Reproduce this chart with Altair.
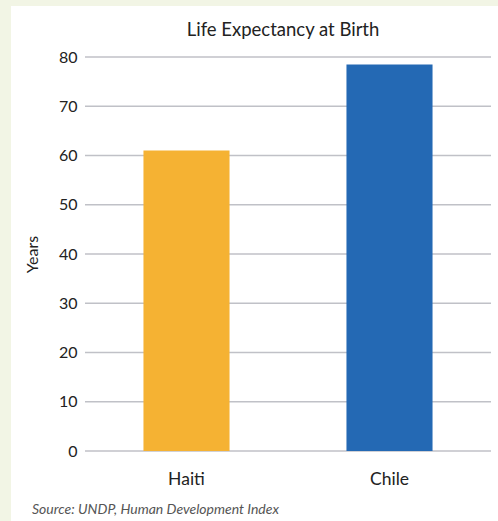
import altair as alt
import pandas as pd

# Life expectancy at birth (years)
countries = ["Haiti", "Chile"]
life_expectancy = [61.0, 78.5]
bar_colors = ["#f5b233", "#2469b4"]
y_ticks = [0, 10, 20, 30, 40, 50, 60, 70, 80]

df = pd.DataFrame({"country": countries, "years": life_expectancy})
grid_df = pd.DataFrame({"years": y_ticks})

FONT = "Lato"
W, H = 406, 394

y_scale = alt.Scale(domain=[0, 80], nice=False)

# white card behind the chart, drawn in pixel space around the plot area
panel = alt.Chart(pd.DataFrame({"k": [0]})).mark_rect(color="white").encode(
    x=alt.value(-74), x2=alt.value(W + 7), y=alt.value(-51), y2=alt.value(H + 70)
)

# horizontal gridlines, kept beneath the bars
grid = alt.Chart(grid_df).mark_rule(color="#c0c1c7", strokeWidth=1.6).encode(
    y=alt.Y("years:Q", scale=y_scale)
)

bars = alt.Chart(df).mark_bar().encode(
    x=alt.X(
        "country:N",
        sort=countries,
        scale=alt.Scale(paddingInner=0.576, paddingOuter=0.288),
        axis=alt.Axis(
            title=None, labelAngle=0, domain=False, ticks=False, zindex=1,
            labelPadding=19, labelFontSize=17.5, labelFont=FONT, labelColor="#222222",
        ),
    ),
    y=alt.Y(
        "years:Q",
        scale=y_scale,
        axis=alt.Axis(
            title="Years", values=y_ticks, domain=False, ticks=False, zindex=1, grid=False,
            labelPadding=8, labelFontSize=16, labelFont=FONT, labelColor="#222222",
            titleFont=FONT, titleFontSize=16, titleFontWeight="normal", titleColor="#222222",
            titlePadding=18,
        ),
    ),
    color=alt.Color("country:N", scale=alt.Scale(domain=countries, range=bar_colors), legend=None),
)

source = alt.Chart(pd.DataFrame({"t": ["Source: UNDP, Human Development Index"]})).mark_text(
    align="left", baseline="alphabetic", font=FONT, fontStyle="italic", fontSize=14, color="#555555"
).encode(text="t:N", x=alt.value(-53), y=alt.value(H + 63))

chart = alt.layer(panel, grid, bars, source).properties(
    width=W,
    height=H,
    title=alt.Title("Life Expectancy at Birth", font=FONT, fontSize=18.5, fontWeight="normal",
                    color="#222222", anchor="middle", frame="group", baseline="alphabetic",
                    offset=-48, dx=-5),
    autosize=alt.AutoSizeParams(type="none"),
    padding={"left": 85, "top": 57, "right": 7, "bottom": 70},
    background="#f2f5e5",
).configure_view(stroke=None)

chart.save("out.html", embed_options={"renderer": "svg", "actions": False})
